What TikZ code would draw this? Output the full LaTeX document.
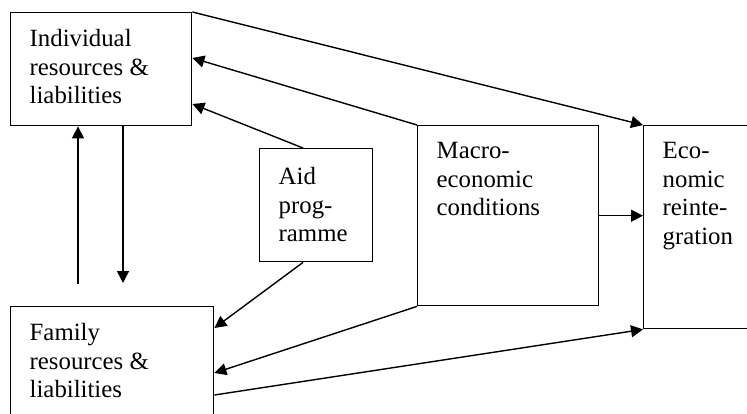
\documentclass[tikz,border=0pt]{standalone}
\usepackage{fontspec}
\setmainfont{Liberation Serif}
\usetikzlibrary{arrows.meta}
\begin{document}
\begin{tikzpicture}[x=0.5pt,y=-0.5pt,line width=0.7pt,
   every node/.style={font=\fontsize{12.4}{14.35}\selectfont},
   block/.style={draw,anchor=north west,inner sep=0pt},
   blocktext/.style={anchor=north west,align=left,inner sep=0pt,xshift=9.5pt,yshift=-8.25pt},
   arr/.style={-{Triangle[length=6pt,width=6pt]}}]
   \useasboundingbox (0,0) rectangle (747,413);
   \clip (0,0) rectangle (747,413);
   % boxes
   \node [block,minimum width=90.5pt,minimum height=56.5pt] (indiv) at (10,12) {};
   \node [block,minimum width=101.5pt,minimum height=67pt] (family) at (10,306) {};
   \node [block,minimum width=56.5pt,minimum height=56.5pt] (aid) at (259,148) {};
   \node [block,minimum width=90.5pt,minimum height=90pt] (macro) at (417,125) {};
   \node [block,minimum width=68.5pt,minimum height=101.5pt] (econ) at (643,125) {};
   \node [blocktext] (indivtext) at (indiv.north west) {Individual\\resources \&\\liabilities};
   \node [blocktext] (familytext) at (family.north west) {Family\\resources \&\\liabilities};
   \node [blocktext,yshift=-1pt] (aidtext) at (aid.north west) {Aid\\prog-\\ramme};
   \node [blocktext] (macrotext) at (macro.north west) {Macro-\\economic\\conditions};
   \node [blocktext] (econtext) at (econ.north west) {Eco-\\nomic\\reinte-\\gration};
   \coordinate (down) at (123,283);
   \coordinate (up) at (78,284);
   % arrows
   \draw [arr] (indiv.north east) -- (econ.north west);
   \draw [arr] (macro.north west) -- (indiv.east |- 0,58);
   \draw [arr] (aid.north -| 303,0) -- (indiv.east |- 0,104);
   \draw [arr] (indiv.south -| down) -- (down);
   \draw [arr] (up) -- (indiv.south -| up);
   \draw [arr] (aid.south -| 303,0) -- (family.east |- 0,328);
   \draw [arr] (macro.south west) -- (family.east |- 0,373);
   \draw [arr] (family.east |- 0,395) -- (econ.south west);
   \draw [arr] (macro.east) -- (econ.west |- macro.east);
\end{tikzpicture}
\end{document}
